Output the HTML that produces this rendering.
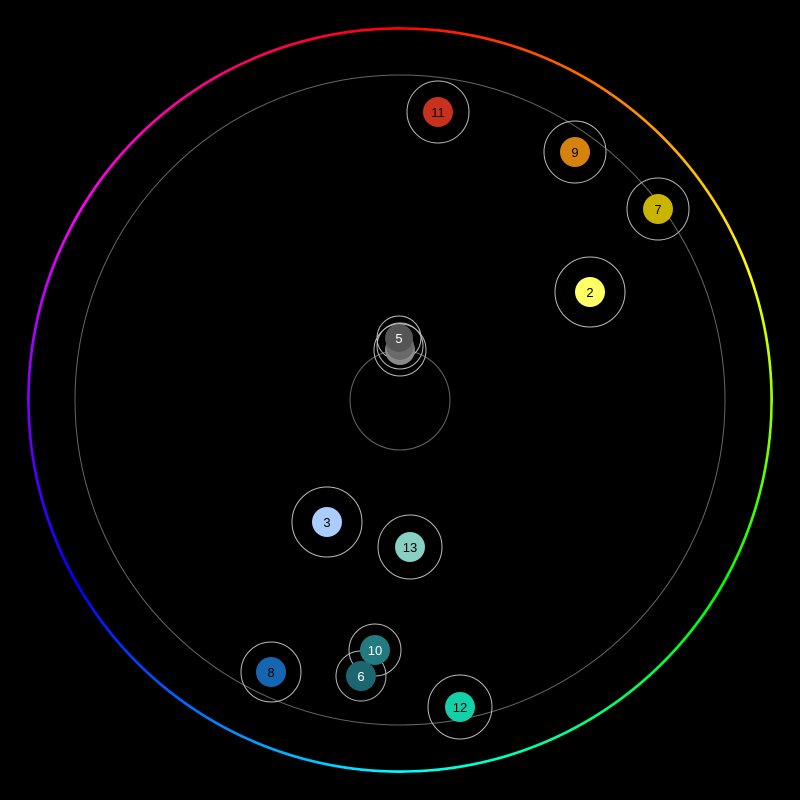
<!DOCTYPE html>
<html><head><style>
html,body{margin:0;padding:0;background:#000;}
.ring{position:absolute;left:27px;top:27px;width:746px;height:746px;border-radius:50%;
background:conic-gradient(#f00 0deg,#ff0 70deg,#0f0 120deg,#0ff 180deg,#00f 240deg,#f0f 300deg,#f00 360deg);
-webkit-mask:radial-gradient(circle,transparent 370px,#000 370.5px,#000 373px,transparent 373.5px);
mask:radial-gradient(circle,transparent 370px,#000 370.5px,#000 373px,transparent 373.5px);}
</style></head><body>
<div style="position:relative;width:800px;height:800px;overflow:hidden">
<div class="ring"></div>
<svg width="800" height="800" style="position:absolute;left:0;top:0" font-family="Liberation Sans, sans-serif" font-size="13" text-anchor="middle">
<g fill="none" stroke="#666" stroke-width="1">
<circle cx="400" cy="400" r="325"/>
<circle cx="400" cy="400" r="50"/>
</g>
<g fill="none" stroke="#bbb" stroke-width="1">
<circle cx="438" cy="112" r="31"/>
<circle cx="575" cy="152" r="31"/>
<circle cx="658" cy="209" r="31"/>
<circle cx="590" cy="292" r="35"/>
<circle cx="327" cy="522" r="35"/>
<circle cx="410" cy="547" r="32"/>
<circle cx="375" cy="650" r="26"/>
<circle cx="361" cy="676" r="25"/>
<circle cx="271" cy="672" r="30"/>
<circle cx="460" cy="707" r="32"/>
<circle cx="400" cy="350" r="26"/>
<circle cx="400" cy="346" r="23"/>
<circle cx="399" cy="338" r="22"/>
</g>
<circle cx="400" cy="350" r="15" fill="#8a8a8a"/>
<circle cx="400" cy="346" r="14" fill="#6a6a6a"/>
<circle cx="399" cy="338" r="14" fill="#555"/>
<text x="399" y="343" fill="#fff">5</text>
<circle cx="438" cy="112" r="15" fill="#c9301e"/><text x="438" y="117">11</text>
<circle cx="575" cy="152" r="15" fill="#d6820f"/><text x="575" y="157">9</text>
<circle cx="658" cy="209" r="15" fill="#c9b400"/><text x="658" y="214">7</text>
<circle cx="590" cy="292" r="15" fill="#ffff66"/><text x="590" y="297">2</text>
<circle cx="327" cy="522" r="15" fill="#aaccff"/><text x="327" y="527">3</text>
<circle cx="410" cy="547" r="15" fill="#88d0c4"/><text x="410" y="552">13</text>
<circle cx="375" cy="650" r="15" fill="#237a80"/><text x="375" y="655" fill="#fff">10</text>
<circle cx="361" cy="676" r="15" fill="#1d6670"/><text x="361" y="681" fill="#fff">6</text>
<circle cx="271" cy="672" r="15" fill="#1565b0"/><text x="271" y="677">8</text>
<circle cx="460" cy="707" r="15" fill="#14d0a8"/><text x="460" y="712">12</text>
</svg>
</div>
</body></html>
